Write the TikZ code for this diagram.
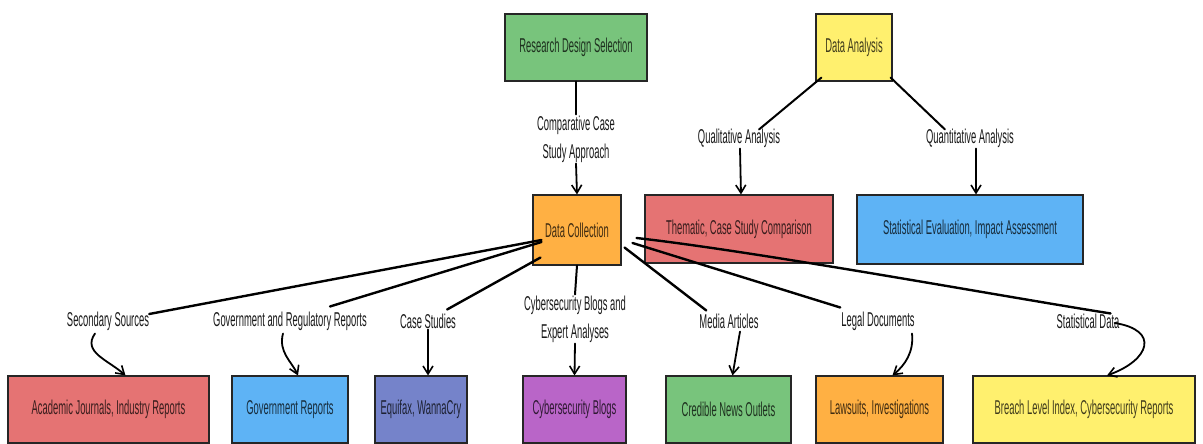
\documentclass[tikz,border=0pt]{standalone}
\usepackage{fontspec}
\setmainfont{Liberation Sans}[FakeStretch=0.47]
\usetikzlibrary{arrows.meta}
\definecolor{cgreen}{HTML}{78C47C}
\definecolor{cyellow}{HTML}{FFF06E}
\definecolor{corange}{HTML}{FFB043}
\definecolor{cred}{HTML}{E57373}
\definecolor{cblue}{HTML}{5EB3F5}
\definecolor{cindigo}{HTML}{7583CA}
\definecolor{cpurple}{HTML}{B965C8}
\begin{document}
\begin{tikzpicture}[x=1pt,y=-1pt,
  box/.style={draw=black!85, line width=1.1pt, fill=#1, text=#1!25!black,
    font=\fontsize{20}{27}\selectfont, inner sep=0pt, align=center},
  elabel/.style={text=black!90, font=\fontsize{20}{28}\selectfont, inner sep=1pt, align=center},
  fan/.style={draw=black, line width=2.4pt, line cap=round},
  link/.style={draw=black, line width=2pt, line cap=round},
  arr/.style={draw=black, line width=1.8pt, line cap=round, -{Straight Barb[length=8pt,width=10pt,line width=1.6pt]}}
]
\useasboundingbox (0,0) rectangle (1203,444);
% top row
\node[box=cgreen, minimum width=142pt, minimum height=67pt] (rds) at (576,47.5) {Research Design Selection};
\node[box=cyellow, minimum width=76pt, minimum height=67pt] (da) at (854,47.5) {Data Analysis};
% middle row
\node[box=corange, minimum width=88pt, minimum height=70pt] (dc) at (577,230) {Data Collection};
\node[box=cred, minimum width=188pt, minimum height=68pt] (tc) at (739,229) {Thematic, Case Study Comparison};
\node[box=cblue, minimum width=226pt, minimum height=69pt] (se) at (970,229.5) {Statistical Evaluation, Impact Assessment};
% bottom row
\node[box=cred, minimum width=201pt, minimum height=67pt] (aj) at (108.5,409.5) {Academic Journals, Industry Reports};
\node[box=cblue, minimum width=116pt, minimum height=67pt] (gov) at (290,409.5) {Government Reports};
\node[box=cindigo, minimum width=92pt, minimum height=67pt] (eq) at (421,409.5) {Equifax, WannaCry};
\node[box=cpurple, minimum width=103pt, minimum height=67pt] (blogs) at (574.5,409.5) {Cybersecurity Blogs};
\node[box=cgreen, minimum width=125pt, minimum height=67pt] (news) at (728.5,409.5) {Credible News Outlets};
\node[box=corange, minimum width=127pt, minimum height=67pt] (law) at (879.5,409.5) {Lawsuits, Investigations};
\node[box=cyellow, minimum width=222pt, minimum height=67pt] (bli) at (1084,409.5) {Breach Level Index, Cybersecurity Reports};
% edge labels
\node[elabel] (cc) at (576,139) {Comparative Case\\Study Approach};
\node[elabel] (ql) at (739,138) {Qualitative Analysis};
\node[elabel] (qn) at (970,138) {Quantitative Analysis};
\node[elabel] (ss) at (108,321) {Secondary Sources};
\node[elabel] (gr) at (290,321) {Government and Regulatory Reports};
\node[elabel] (cs) at (428,321) {Case Studies};
\node[elabel] (cb) at (575,319) {Cybersecurity Blogs and\\Expert Analyses};
\node[elabel] (ma) at (729,321) {Media Articles};
\node[elabel] (ld) at (878,321) {Legal Documents};
\node[elabel] (sd) at (1088,321) {Statistical Data};
% top connectors
\draw[link] (rds.south) -- (cc.north);
\draw[arr] (cc.south) -- (dc.north);
\draw[link] ([shift={(6,-4)}]da.south west) -- ([shift={(20,2)}]ql.north);
\draw[arr] ([shift={(1,0)}]ql.south) -- ([shift={(2,0)}]tc.north);
\draw[link] ([shift={(-2,-4)}]da.south east) -- ([shift={(-25,2)}]qn.north);
\draw[arr] ([shift={(6,0)}]qn.south) -- ([shift={(6,0)}]se.north);
% fan from data collection
\draw[fan] ([shift={(9,10)}]dc.west) -- ([shift={(-1,-7)}]ss.east);
\draw[fan] ([shift={(9,12)}]dc.west) -- ([shift={(40,-4)}]gr.north);
\draw[fan] ([shift={(8,-8)}]dc.south west) -- ([shift={(-10,-3)}]cs.north east);
\draw[link] (dc.south) -- (cb.north);
\draw[fan] ([shift={(3,-18)}]dc.south east) -- ([shift={(8,-2)}]ma.north west);
\draw[fan] ([shift={(11,13)}]dc.east) -- ([shift={(0,-3)}]ld.north west);
\draw[fan] ([shift={(15,8)}]dc.east) .. controls (760,252) and (1000,296) .. ([shift={(-10,1)}]sd.north east);
% label to target
\draw[arr] ([shift={(-13,2)}]ss.south) .. controls (82,352) and (108,360) .. ([shift={(17,0)}]aj.north);
\draw[arr] ([shift={(-7,2)}]gr.south) .. controls (278,352) and (292,362) .. ([shift={(8,0)}]gov.north);
\draw[arr] (cs.south) -- ([shift={(7,0)}]eq.north);
\draw[arr] (cb.south) -- (blogs.north);
\draw[arr] ([shift={(11,2)}]ma.south) -- ([shift={(4,0)}]news.north);
\draw[arr] ([shift={(34,2)}]ld.south) .. controls (914,352) and (905,365) .. ([shift={(13,0)}]law.north);
\draw[arr] ([shift={(-6,2)}]sd.east) .. controls (1160,330) and (1150,360) .. ([shift={(23,0)}]bli.north);
\end{tikzpicture}
\end{document}
